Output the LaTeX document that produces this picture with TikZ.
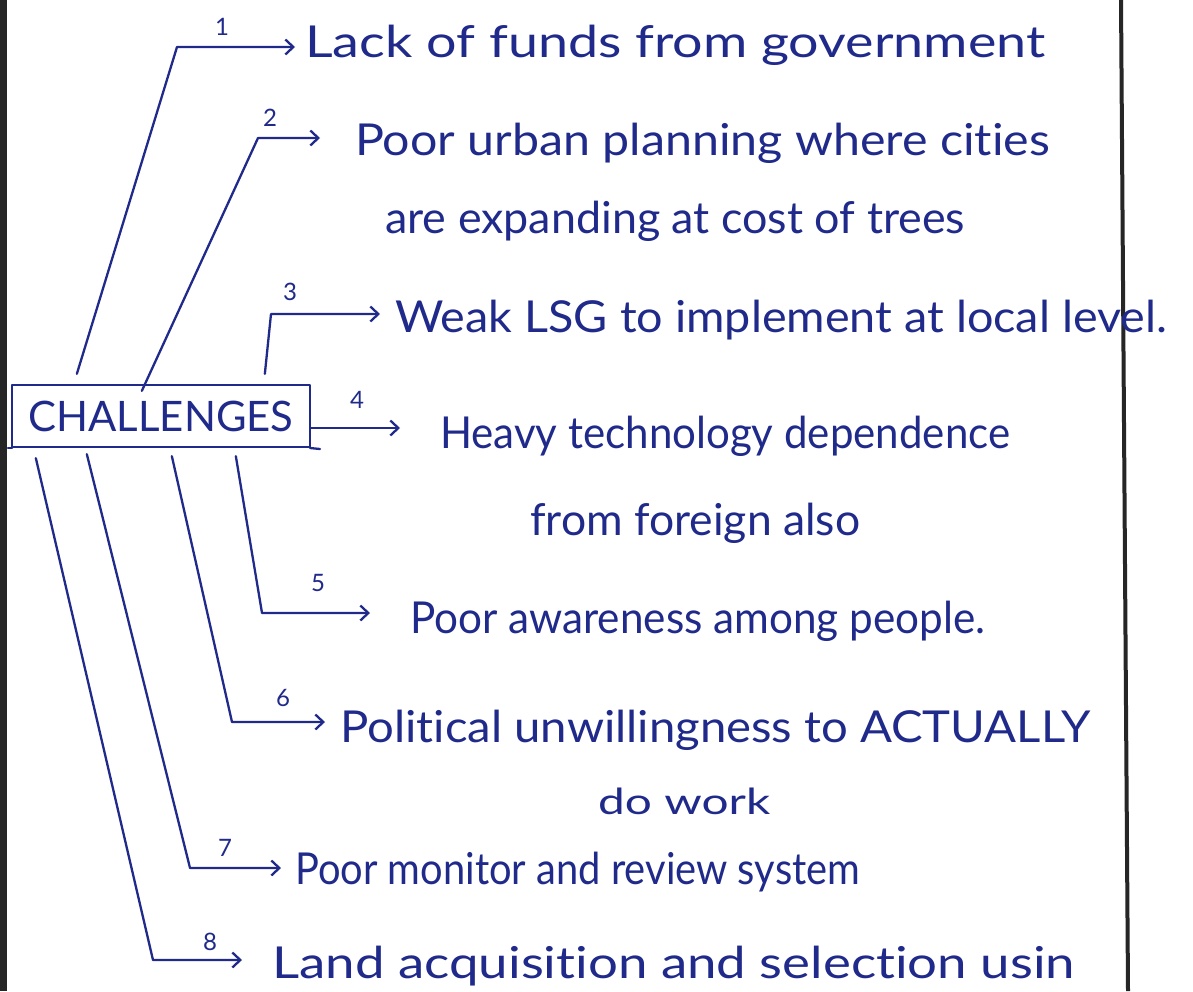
\documentclass[tikz,border=0pt]{standalone}
\usepackage{fontspec}
\setmainfont{Lato}[Ligatures={NoCommon}]
\usetikzlibrary{arrows.meta}
\definecolor{ink}{RGB}{32,42,138}
\definecolor{edge}{RGB}{38,38,38}
% stretch a line of text to a given width, keeping its height
\newcommand{\fitto}[2]{\resizebox{#1}{\height}{#2}}

\begin{document}
\begin{tikzpicture}[x=1pt,y=-1pt,
  pen/.style={draw=ink, line width=2.3pt, line cap=round, line join=round},
  link/.style={pen, -{Straight Barb[length=8pt,width=15pt,line width=2.3pt]}},
  item/.style={anchor=base west, inner sep=0pt, text=ink, font=\fontsize{44}{50}\selectfont},
  small item/.style={item, font=\fontsize{36}{40}\selectfont},
  num/.style={text=ink, inner sep=0pt, font=\fontsize{24}{26}\selectfont},
  titlebox/.style={pen, rectangle, minimum width=298pt, minimum height=62pt, inner sep=0pt,
    text=ink, font=\fontsize{42}{48}\selectfont},
]
\useasboundingbox (0,0) rectangle (1193,991);
\fill[white] (0,0) rectangle (1193,991);
% page edge and margin rule
\fill[edge] (0,0) rectangle (7,991);
\draw[edge, line width=4pt] (1121,0) -- (1128,991);

% central box
\node[titlebox] (ch) at (161,416) {\fitto{265pt}{CHALLENGES}};
\draw[pen] (8,448) -- (12,448);
\draw[pen] (310,448) -- (320,449);

% challenge texts
\node[item] (t1) at (305,57) {\fitto{740pt}{Lack of funds from government}};
\node[item] (t2) at (355,155) {\fitto{695pt}{Poor urban planning where cities}};
\node[item] (t2b) at (385,233) {\fitto{580pt}{are expanding at cost of trees}};
\node[item] (t3) at (395,332) {\fitto{772pt}{Weak LSG to implement at local level.}};
\node[item] (t4) at (440,448) {\fitto{570pt}{Heavy technology dependence}};
\node[item] (t4b) at (530,535) {\fitto{330pt}{from foreign also}};
\node[item] (t5) at (410,633) {\fitto{575pt}{Poor awareness among people.}};
\node[item] (t6) at (340,742) {\fitto{750pt}{Political unwillingness to ACTUALLY}};
\node[small item] (t6b) at (598,814) {\fitto{172pt}{do work}};
\node[item] (t7) at (295,884) {\fitto{565pt}{Poor monitor and review system}};
\node[item] (t8) at (272,978) {\fitto{803pt}{Land acquisition and selection usin}};

% numbers
\node[num] (n1) at (222,27) {1};
\node[num] (n2) at (270,118) {2};
\node[num] (n3) at (290,292) {3};
\node[num] (n4) at (357,400) {4};
\node[num] (n5) at (318,583) {5};
\node[num] (n6) at (283,698) {6};
\node[num] (n7) at (225,848) {7};
\node[num] (n8) at (210,942) {8};

% bends of the connectors
\coordinate (k1) at (177,47);
\coordinate (k2) at (258,138);
\coordinate (k3) at (271,314);
\coordinate (k5) at (262,613);
\coordinate (k6) at (232,722);
\coordinate (k7) at (190,868);
\coordinate (k8) at (153,960);

% connectors from the box
\draw[link, shorten >=10pt] ([xshift=66pt,yshift=10pt]ch.north west) -- (k1) -- (k1 -| t1.west);
\draw[link, shorten >=35pt] ([xshift=131pt,yshift=-7pt]ch.north west) -- (k2) -- (k2 -| t2.west);
\draw[link, shorten >=15pt] ([xshift=254pt,yshift=10pt]ch.north west) -- (k3) -- (k3 -| t3.west);
\draw[link, shorten >=40pt] ([yshift=-12pt]ch.east) -- ([yshift=-12pt]ch.east -| t4.west);
\draw[link, shorten >=40pt] ([xshift=225pt,yshift=-8pt]ch.south west) -- (k5) -- (k5 -| t5.west);
\draw[link, shorten >=15pt] ([xshift=161pt,yshift=-8pt]ch.south west) -- (k6) -- (k6 -| t6.west);
\draw[link, shorten >=14pt] ([xshift=76pt,yshift=-6pt]ch.south west) -- (k7) -- (k7 -| t7.west);
\draw[link, shorten >=30pt] ([xshift=25pt,yshift=-10pt]ch.south west) -- (k8) -- (k8 -| t8.west);
\end{tikzpicture}
\end{document}
